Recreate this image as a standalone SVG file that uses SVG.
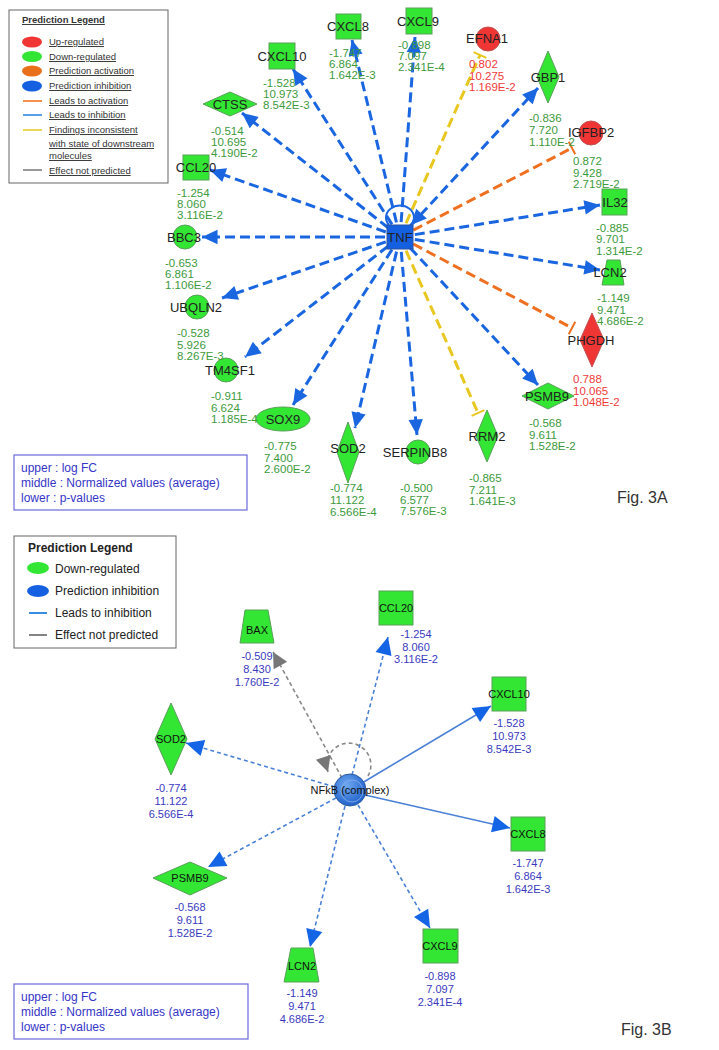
<svg xmlns="http://www.w3.org/2000/svg" width="719" height="1050" viewBox="0 0 719 1050">
<style>
text{font-family:"Liberation Sans",Arial,sans-serif}
.lg{font-size:9.5px;fill:#333;text-decoration:underline}
.lgt{font-size:9.5px;font-weight:bold;fill:#333;text-decoration:underline}
.lab{font-size:13px;fill:#222}
.val{font-size:11.5px;fill:#3d9a3d}
.vr{font-size:11.5px;fill:#f03a3a}
.g{fill:#33e633;stroke:#5aa05a;stroke-width:1}
.r{fill:#f03535;stroke:#c05050;stroke-width:1}
.eb{stroke:#1a66e0;stroke-width:3;stroke-dasharray:10 5;fill:none}
.eo{stroke:#ee7020;stroke-width:3;stroke-dasharray:10 5;fill:none}
.ey{stroke:#e8c820;stroke-width:3;stroke-dasharray:10 5;fill:none}
.note{font-size:12px;fill:#3535c8}
.bl{font-size:12px;fill:#222}
.blt{font-size:12px;font-weight:bold;fill:#222}
.bn{font-size:11px;fill:#111}
.bv{font-size:11px;fill:#3a3ac0}
.db{stroke:#4a80d6;stroke-width:1.6;stroke-dasharray:4 3;fill:none}
.sb{stroke:#4a80d6;stroke-width:1.6;fill:none}
.dg{stroke:#888;stroke-width:1.6;stroke-dasharray:4 3;fill:none}
</style>
<defs>
<marker id="ab" markerUnits="userSpaceOnUse" markerWidth="20" markerHeight="20" viewBox="-16 -8 18 16" refX="0" refY="0" orient="auto"><path d="M0,0 L-14,-6.5 L-14,6.5 Z" fill="#1a66e0"/></marker>
<marker id="to" markerUnits="userSpaceOnUse" markerWidth="20" markerHeight="20" viewBox="-4 -10 8 20" refX="0" refY="0" orient="auto"><path d="M0,-7 L0,7" stroke="#ee7020" stroke-width="2"/></marker>
<marker id="ty" markerUnits="userSpaceOnUse" markerWidth="20" markerHeight="20" viewBox="-4 -10 8 20" refX="0" refY="0" orient="auto"><path d="M0,-7 L0,7" stroke="#e8c820" stroke-width="2"/></marker>
<marker id="bb" markerUnits="userSpaceOnUse" markerWidth="22" markerHeight="22" viewBox="-18 -9 20 18" refX="0" refY="0" orient="auto"><path d="M0,0 L-16,-7.5 L-16,7.5 Z" fill="#1464e6"/></marker>
<marker id="bg" markerUnits="userSpaceOnUse" markerWidth="22" markerHeight="22" viewBox="-18 -9 20 18" refX="0" refY="0" orient="auto"><path d="M0,0 L-14,-7 L-14,7 Z" fill="#777"/></marker>
<radialGradient id="nf" cx="0.4" cy="0.35" r="0.7"><stop offset="0" stop-color="#6fa8f0"/><stop offset="1" stop-color="#1a5cc8"/></radialGradient>
<clipPath id="ctop"><rect x="0" y="0" width="719" height="519"/></clipPath>
</defs>
<rect width="719" height="1050" fill="#fff"/>

<g id="fig3A" clip-path="url(#ctop)">
<g id="legendA">
<rect x="9" y="10" width="159" height="173" fill="#fff" stroke="#666" stroke-width="1"/>
<text class="lgt" x="22" y="23">Prediction Legend</text>
<ellipse cx="32" cy="42" rx="10" ry="5.5" fill="#f03535"/><text class="lg" x="49" y="45">Up-regulated</text>
<ellipse cx="32" cy="56.5" rx="10" ry="5.5" fill="#33e633"/><text class="lg" x="49" y="60">Down-regulated</text>
<ellipse cx="32" cy="71" rx="10" ry="5.5" fill="#e8701a"/><text class="lg" x="49" y="74">Prediction activation</text>
<ellipse cx="32" cy="86" rx="10" ry="5.5" fill="#1560e0"/><text class="lg" x="49" y="89">Prediction inhibition</text>
<line x1="23" y1="101" x2="42" y2="101" stroke="#f06a10" stroke-width="1.5"/><text class="lg" x="49" y="104">Leads to activation</text>
<line x1="23" y1="115" x2="42" y2="115" stroke="#2080e0" stroke-width="1.5"/><text class="lg" x="49" y="118">Leads to inhibition</text>
<line x1="23" y1="130" x2="42" y2="130" stroke="#e8c820" stroke-width="1.5"/><text class="lg" x="49" y="133">Findings inconsistent</text>
<text class="lg" x="49" y="147">with state of downstream</text>
<text class="lg" x="49" y="159">molecules</text>
<line x1="23" y1="170" x2="42" y2="170" stroke="#777" stroke-width="1.5"/><text class="lg" x="49" y="174">Effect not predicted</text>
</g>

<g id="edgesA">
<path class="eb" d="M400,237 L242,113" marker-end="url(#ab)"/>
<path class="eb" d="M400,237 L293,69" marker-end="url(#ab)"/>
<path class="eb" d="M400,237 L352,40" marker-end="url(#ab)"/>
<path class="eb" d="M400,237 L415,37" marker-end="url(#ab)"/>
<path class="ey" d="M400,237 L480,55" marker-end="url(#ty)"/>
<path class="eb" d="M400,237 L538,88" marker-end="url(#ab)"/>
<path class="eo" d="M400,237 L572,148" marker-end="url(#to)"/>
<path class="eb" d="M400,237 L600,205" marker-end="url(#ab)"/>
<path class="eb" d="M400,237 L600,270" marker-end="url(#ab)"/>
<path class="eo" d="M400,237 L572,328" marker-end="url(#to)"/>
<path class="eb" d="M400,237 L538,385" marker-end="url(#ab)"/>
<path class="ey" d="M400,237 L478,413" marker-end="url(#ty)"/>
<path class="eb" d="M400,237 L417,435" marker-end="url(#ab)"/>
<path class="eb" d="M400,237 L355,428" marker-end="url(#ab)"/>
<path class="eb" d="M400,237 L293,405" marker-end="url(#ab)"/>
<path class="eb" d="M400,237 L245,357" marker-end="url(#ab)"/>
<path class="eb" d="M400,237 L222,298" marker-end="url(#ab)"/>
<path class="eb" d="M400,237 L202,237" marker-end="url(#ab)"/>
<path class="eb" d="M400,237 L210,170" marker-end="url(#ab)"/>
<path d="M389,225 A14,12 0 1 1 411,225" fill="none" stroke="#1a66e0" stroke-width="2" marker-end="url(#ab)"/>
</g>

<g id="TNF"><rect x="387" y="225" width="26" height="24" fill="#1560e0" stroke="#2a50a0" stroke-width="1"/><text class="lab" x="400" y="242" text-anchor="middle">TNF</text></g>

<g id="A-CTSS"><path class="g" d="M203,104 L230,92 L257,104 L230,116 Z"/><text class="lab" x="230" y="109" text-anchor="middle">CTSS</text><text class="val" x="211" y="135">-0.514</text><text class="val" x="211" y="146">10.695</text><text class="val" x="211" y="157">4.190E-2</text></g>
<g id="A-CXCL10"><rect class="g" x="269" y="43" width="26" height="26"/><text class="lab" x="282" y="61" text-anchor="middle">CXCL10</text><text class="val" x="263" y="87">-1.528</text><text class="val" x="263" y="98">10.973</text><text class="val" x="263" y="109">8.542E-3</text></g>
<g id="A-CXCL8"><rect class="g" x="336" y="14" width="25" height="25"/><text class="lab" x="348" y="31" text-anchor="middle">CXCL8</text><text class="val" x="329" y="57">-1.747</text><text class="val" x="329" y="68">6.864</text><text class="val" x="329" y="79">1.642E-3</text></g>
<g id="A-CXCL9"><rect class="g" x="406" y="8" width="26" height="26"/><text class="lab" x="418" y="26" text-anchor="middle">CXCL9</text><text class="val" x="398" y="49">-0.898</text><text class="val" x="398" y="60">7.097</text><text class="val" x="398" y="71">2.341E-4</text></g>
<g id="A-EFNA1"><circle class="r" cx="488" cy="39" r="12"/><text class="lab" x="487" y="43" text-anchor="middle">EFNA1</text><text class="vr" x="469" y="68">0.802</text><text class="vr" x="469" y="80">10.275</text><text class="vr" x="469" y="91">1.169E-2</text></g>
<g id="A-GBP1"><path class="g" d="M548,51 L559,77 L548,103 L537,77 Z"/><text class="lab" x="548" y="82" text-anchor="middle">GBP1</text><text class="val" x="529" y="122">-0.836</text><text class="val" x="529" y="134">7.720</text><text class="val" x="529" y="146">1.110E-2</text></g>
<g id="A-IGFBP2"><circle class="r" cx="591" cy="133" r="12"/><text class="lab" x="591" y="137" text-anchor="middle">IGFBP2</text><text class="val" x="573" y="165">0.872</text><text class="val" x="573" y="177">9.428</text><text class="val" x="573" y="188">2.719E-2</text></g>
<g id="A-IL32"><rect class="g" x="602" y="189" width="25" height="26"/><text class="lab" x="615" y="207" text-anchor="middle">IL32</text><text class="val" x="596" y="232">-0.885</text><text class="val" x="596" y="243">9.701</text><text class="val" x="596" y="255">1.314E-2</text></g>
<g id="A-LCN2"><path class="g" d="M607,260 L620,260 L624,285 L602,285 Z"/><text class="lab" x="610" y="277" text-anchor="middle">LCN2</text><text class="val" x="597" y="302">-1.149</text><text class="val" x="597" y="314">9.471</text><text class="val" x="597" y="325">4.686E-2</text></g>
<g id="A-PHGDH"><path class="r" d="M592,313 L604,340 L592,367 L580,340 Z"/><text class="lab" x="591" y="345" text-anchor="middle">PHGDH</text><text class="vr" x="573" y="383">0.788</text><text class="vr" x="573" y="395">10.065</text><text class="vr" x="573" y="406">1.048E-2</text></g>
<g id="A-PSMB9"><path class="g" d="M522,396 L548,383 L574,396 L548,409 Z"/><text class="lab" x="547" y="401" text-anchor="middle">PSMB9</text><text class="val" x="529" y="427">-0.568</text><text class="val" x="529" y="439">9.611</text><text class="val" x="529" y="450">1.528E-2</text></g>
<g id="A-RRM2"><path class="g" d="M487,410 L498,436 L487,462 L476,436 Z"/><text class="lab" x="487" y="441" text-anchor="middle">RRM2</text><text class="val" x="469" y="482">-0.865</text><text class="val" x="469" y="494">7.211</text><text class="val" x="469" y="505">1.641E-3</text></g>
<g id="A-SERPINB8"><circle class="g" cx="418" cy="452" r="12"/><text class="lab" x="415" y="457" text-anchor="middle">SERPINB8</text><text class="val" x="400" y="492">-0.500</text><text class="val" x="400" y="504">6.577</text><text class="val" x="400" y="515">7.576E-3</text></g>
<g id="A-SOD2"><path class="g" d="M348,422 L359,452 L348,483 L337,452 Z"/><text class="lab" x="348" y="453" text-anchor="middle">SOD2</text><text class="val" x="330" y="492">-0.774</text><text class="val" x="330" y="504">11.122</text><text class="val" x="330" y="516">6.566E-4</text></g>
<g id="A-SOX9"><ellipse class="g" cx="283" cy="419" rx="27" ry="12"/><text class="lab" x="283" y="424" text-anchor="middle">SOX9</text><text class="val" x="264" y="450">-0.775</text><text class="val" x="264" y="462">7.400</text><text class="val" x="264" y="473">2.600E-2</text></g>
<g id="A-TM4SF1"><circle class="g" cx="226" cy="370" r="12"/><text class="lab" x="230" y="375" text-anchor="middle">TM4SF1</text><text class="val" x="211" y="400">-0.911</text><text class="val" x="211" y="412">6.624</text><text class="val" x="211" y="423">1.185E-4</text></g>
<g id="A-UBQLN2"><circle class="g" cx="197" cy="307" r="12"/><text class="lab" x="196" y="312" text-anchor="middle">UBQLN2</text><text class="val" x="177" y="337">-0.528</text><text class="val" x="177" y="349">5.926</text><text class="val" x="177" y="360">8.267E-3</text></g>
<g id="A-BBC3"><circle class="g" cx="185" cy="237" r="12"/><text class="lab" x="184" y="242" text-anchor="middle">BBC3</text><text class="val" x="165" y="267">-0.653</text><text class="val" x="165" y="278">6.861</text><text class="val" x="165" y="289">1.106E-2</text></g>
<g id="A-CCL20"><rect class="g" x="183" y="155" width="26" height="25"/><text class="lab" x="196" y="172" text-anchor="middle">CCL20</text><text class="val" x="177" y="197">-1.254</text><text class="val" x="177" y="208">8.060</text><text class="val" x="177" y="219">3.116E-2</text></g>

<g id="noteA"><rect x="14" y="455" width="233" height="55" fill="#fff" stroke="#6a6ad8" stroke-width="1.2"/><text class="note" x="21" y="472">upper : log FC</text><text class="note" x="21" y="487">middle : Normalized values (average)</text><text class="note" x="21" y="502">lower : p-values</text></g>
<text x="617" y="503" font-size="16" fill="#333" style="font-family:'Liberation Sans',Arial,sans-serif">Fig. 3A</text>
</g>

<g id="fig3B">
<g id="legendB">
<rect x="14" y="536" width="162" height="112" fill="#fff" stroke="#666" stroke-width="1"/>
<text class="blt" x="28" y="552">Prediction Legend</text>
<ellipse cx="38" cy="568" rx="11" ry="6" fill="#33e633"/><text class="bl" x="55" y="573">Down-regulated</text>
<ellipse cx="38" cy="591" rx="11" ry="6" fill="#1560e0"/><text class="bl" x="55" y="595">Prediction inhibition</text>
<line x1="29" y1="613" x2="47" y2="613" stroke="#2080e0" stroke-width="1.8"/><text class="bl" x="55" y="617">Leads to inhibition</text>
<line x1="29" y1="635" x2="47" y2="635" stroke="#777" stroke-width="1.8"/><text class="bl" x="55" y="639">Effect not predicted</text>
</g>

<g id="edgesB">
<path class="dg" d="M342,778 L273,652" marker-end="url(#bg)"/>
<path class="dg" d="M368,776 A22,22 0 1 0 328,772" marker-end="url(#bg)"/>
<path class="db" d="M352,775 L388,637" marker-end="url(#bb)"/>
<path class="sb" d="M362,783 L491,706" marker-end="url(#bb)"/>
<path class="sb" d="M365,795 L510,828" marker-end="url(#bb)"/>
<path class="db" d="M335,787 L186,743" marker-end="url(#bb)"/>
<path class="db" d="M336,798 L208,867" marker-end="url(#bb)"/>
<path class="db" d="M345,806 L310,947" marker-end="url(#bb)"/>
<path class="db" d="M358,805 L430,928" marker-end="url(#bb)"/>
</g>

<g id="NFkB"><circle cx="350" cy="790" r="16" fill="url(#nf)" stroke="#2a5aa0" stroke-width="1"/><circle cx="352" cy="791" r="11" fill="none" stroke="#8ab4ee" stroke-width="0.8"/><text class="bn" x="350" y="794" text-anchor="middle">NFkB (complex)</text></g>

<g id="B-BAX"><path class="g" d="M245,610 L268,610 L274,643 L240,643 Z"/><text class="bn" x="257" y="634" text-anchor="middle">BAX</text><text class="bv" x="257" y="660" text-anchor="middle">-0.509</text><text class="bv" x="257" y="673" text-anchor="middle">8.430</text><text class="bv" x="257" y="686" text-anchor="middle">1.760E-2</text></g>
<g id="B-CCL20"><rect class="g" x="379" y="591" width="34" height="34"/><text class="bn" x="396" y="612" text-anchor="middle">CCL20</text><text class="bv" x="416" y="638" text-anchor="middle">-1.254</text><text class="bv" x="416" y="651" text-anchor="middle">8.060</text><text class="bv" x="416" y="663" text-anchor="middle">3.116E-2</text></g>
<g id="B-CXCL10"><rect class="g" x="492" y="677" width="34" height="34"/><text class="bn" x="509" y="698" text-anchor="middle">CXCL10</text><text class="bv" x="509" y="727" text-anchor="middle">-1.528</text><text class="bv" x="509" y="740" text-anchor="middle">10.973</text><text class="bv" x="509" y="753" text-anchor="middle">8.542E-3</text></g>
<g id="B-CXCL8"><rect class="g" x="511" y="817" width="34" height="34"/><text class="bn" x="528" y="838" text-anchor="middle">CXCL8</text><text class="bv" x="528" y="867" text-anchor="middle">-1.747</text><text class="bv" x="528" y="880" text-anchor="middle">6.864</text><text class="bv" x="528" y="893" text-anchor="middle">1.642E-3</text></g>
<g id="B-SOD2"><path class="g" d="M171,703 L187,739 L171,775 L155,739 Z"/><text class="bn" x="171" y="743" text-anchor="middle">SOD2</text><text class="bv" x="171" y="792" text-anchor="middle">-0.774</text><text class="bv" x="171" y="805" text-anchor="middle">11.122</text><text class="bv" x="171" y="818" text-anchor="middle">6.566E-4</text></g>
<g id="B-PSMB9"><path class="g" d="M153,878 L190,862 L227,878 L190,895 Z"/><text class="bn" x="190" y="882" text-anchor="middle">PSMB9</text><text class="bv" x="190" y="911" text-anchor="middle">-0.568</text><text class="bv" x="190" y="924" text-anchor="middle">9.611</text><text class="bv" x="190" y="937" text-anchor="middle">1.528E-2</text></g>
<g id="B-LCN2"><path class="g" d="M291,948 L313,948 L319,982 L284,982 Z"/><text class="bn" x="302" y="970" text-anchor="middle">LCN2</text><text class="bv" x="302" y="997" text-anchor="middle">-1.149</text><text class="bv" x="302" y="1010" text-anchor="middle">9.471</text><text class="bv" x="302" y="1023" text-anchor="middle">4.686E-2</text></g>
<g id="B-CXCL9"><rect class="g" x="423" y="929" width="35" height="34"/><text class="bn" x="440" y="950" text-anchor="middle">CXCL9</text><text class="bv" x="440" y="980" text-anchor="middle">-0.898</text><text class="bv" x="440" y="993" text-anchor="middle">7.097</text><text class="bv" x="440" y="1006" text-anchor="middle">2.341E-4</text></g>

<g id="noteB"><rect x="14" y="984" width="234" height="55" fill="#fff" stroke="#6a6ad8" stroke-width="1.2"/><text class="note" x="21" y="1001">upper : log FC</text><text class="note" x="21" y="1016">middle : Normalized values (average)</text><text class="note" x="21" y="1031">lower : p-values</text></g>
<text x="621" y="1035" font-size="16" fill="#333" style="font-family:'Liberation Sans',Arial,sans-serif">Fig. 3B</text>
</g>
</svg>
